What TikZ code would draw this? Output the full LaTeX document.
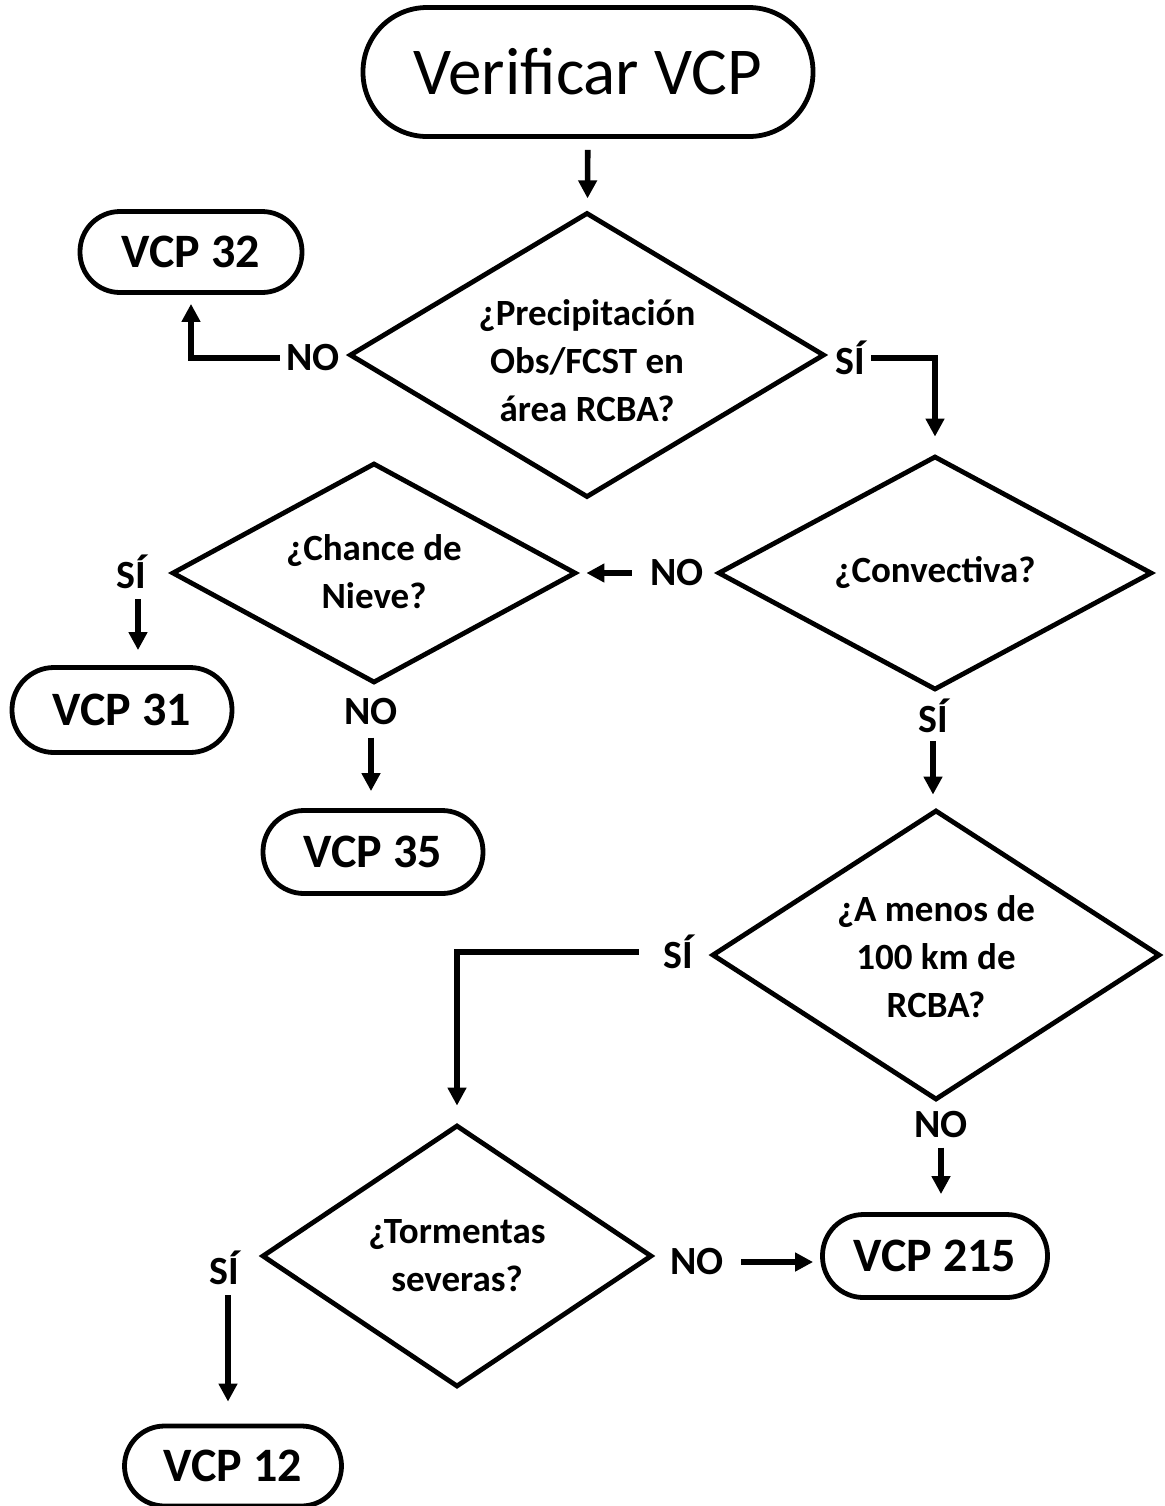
\documentclass[tikz,border=0pt]{standalone}
\usepackage{fontspec}
\setmainfont{Carlito}
\usetikzlibrary{arrows.meta,shapes.geometric}
\newcommand{\dtext}[2]{\raisebox{#1}[\height][\depth]{\begin{tabular}{@{}c@{}}#2\end{tabular}}}
\begin{document}
\begin{tikzpicture}[x=0.5pt,y=-0.5pt,
  lw/.style={line width=2.4pt},
  terminal/.style={lw,draw,rectangle,inner sep=0pt,font=\bfseries\fontsize{24}{28}\selectfont},
  decision/.style={lw,draw,diamond,inner sep=0pt,align=center,font=\bfseries\fontsize{18.5}{24}\selectfont},
  answer/.style={inner sep=3pt,font=\bfseries\fontsize{20}{24}\selectfont},
  arr/.style={line width=2.8pt,-{Triangle[length=9pt,width=9pt]}}]
\useasboundingbox (0,0) rectangle (1164,1506);
% start
\node[terminal,font=\fontsize{33.5}{40}\selectfont,minimum width=225pt,minimum height=64.5pt,rounded corners=32pt] (start) at (588,72) {Verificar VCP};
% decisions
\node[decision,minimum width=237.5pt,minimum height=142.5pt,shape aspect=1.67] (d1) at (587,355) {\dtext{-4.5pt}{¿Precipitación\\Obs/FCST en\\área RCBA?}};
\node[decision,minimum width=217pt,minimum height=117pt,shape aspect=1.85] (d2) at (935,573) {¿Convectiva?};
\node[decision,minimum width=202pt,minimum height=110pt,shape aspect=1.84] (d3) at (374,573) {\dtext{-0.8pt}{¿Chance de\\Nieve?}};
\node[decision,minimum width=224pt,minimum height=145pt,shape aspect=1.55] (d4) at (936,955) {\dtext{-2.5pt}{¿A menos de\\100 km de\\RCBA?}};
\node[decision,minimum width=195pt,minimum height=131pt,shape aspect=1.49] (d5) at (457,1256) {\dtext{-0.8pt}{¿Tormentas\\severas?}};
% terminals
\node[terminal,minimum width=111pt,minimum height=40.5pt,rounded corners=20pt] (vcp32) at (191,252) {VCP 32};
\node[terminal,minimum width=110pt,minimum height=42.5pt,rounded corners=21pt] (vcp31) at (122,710) {VCP 31};
\node[terminal,minimum width=110pt,minimum height=41.5pt,rounded corners=20.5pt] (vcp35) at (373,852) {VCP 35};
\node[terminal,minimum width=112.5pt,minimum height=41.5pt,rounded corners=20.5pt] (vcp215) at (935,1256) {VCP 215};
\node[terminal,minimum width=108.5pt,minimum height=40pt,rounded corners=20pt] (vcp12) at (233,1466) {VCP 12};
% answers
\node[answer] (no1) at (313,358) {NO};
\node[answer] (si1) at (850,358) {SÍ};
\node[answer] (no2) at (677,573) {NO};
\node[answer] (si3) at (131,572) {SÍ};
\node[answer] (no3) at (371,712) {NO};
\node[answer] (si2) at (933,716) {SÍ};
\node[answer] (si4) at (678,952) {SÍ};
\node[answer] (no4) at (941,1125) {NO};
\node[answer] (no5) at (697,1262) {NO};
\node[answer] (si5) at (224,1268) {SÍ};
% connectors
\draw[arr,shorten <=5.5pt,shorten >=6pt] (start) -- (d1);
\draw[arr,shorten >=4.5pt] (no1.west) -| (vcp32.south);
\draw[arr,shorten >=8.5pt] (si1.east) -| (d2.north);
\draw[arr,shorten <=6pt,shorten >=4pt] (no2.west) -- (no2.west -| d3.east);
\draw[arr,shorten <=2pt,shorten >=7.5pt] ([xshift=3.5pt]si3.south) -- ([xshift=3.5pt]si3.south |- vcp31.north);
\draw[arr,shorten <=3pt,shorten >=8.5pt] (no3.south) -- (no3.south |- vcp35.north);
\draw[arr,shorten <=1pt,shorten >=6.5pt] (si2.south) -- (si2.south |- d4.north);
\draw[arr,shorten <=9pt,shorten >=8.5pt] (si4.west) -| (d5.north);
\draw[arr,shorten <=1.5pt,shorten >=9pt] (no4.south) -- (no4.south |- vcp215.north);
\draw[arr,shorten <=5.5pt,shorten >=3.5pt] (no5.east) -- (no5.east -| vcp215.west);
\draw[arr,shorten <=2pt,shorten >=11pt] ([xshift=2pt]si5.south) -- ([xshift=2pt]si5.south |- vcp12.north);
\end{tikzpicture}
\end{document}
